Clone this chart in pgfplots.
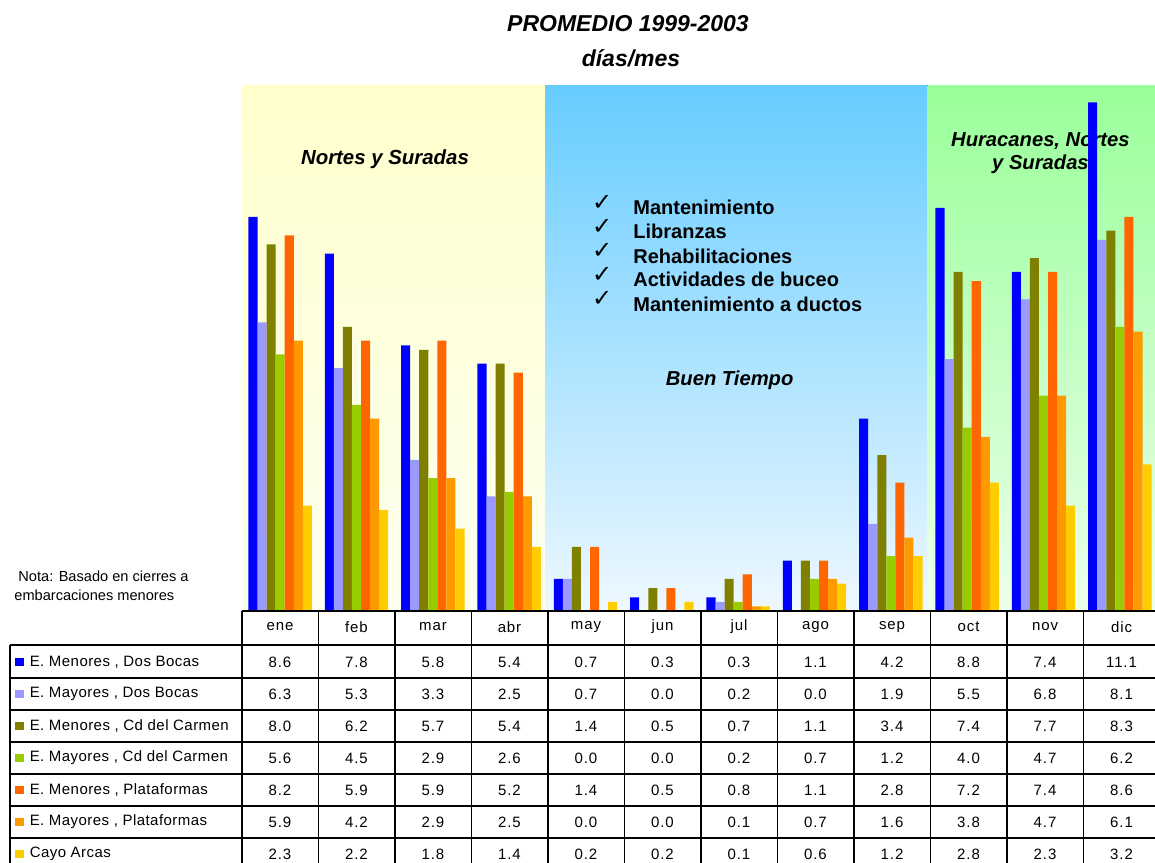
\documentclass[border=0pt]{standalone}
\usepackage{pgfplots}
\usepackage{pgfplotstable}
\pgfplotsset{compat=1.18}
\usepackage{fontspec}
\setmainfont{Liberation Sans}
\newfontfamily\symfont{DejaVu Sans}
\newfontfamily\tabfont[LetterSpace=6]{Liberation Sans}
\newfontfamily\legfont[LetterSpace=3]{Liberation Sans}

\definecolor{c1}{RGB}{0,0,255}
\definecolor{c2}{RGB}{153,153,255}
\definecolor{c3}{RGB}{128,128,0}
\definecolor{c4}{RGB}{153,204,0}
\definecolor{c5}{RGB}{255,102,0}
\definecolor{c6}{RGB}{255,153,0}
\definecolor{c7}{RGB}{255,204,0}

\pgfplotstableread{
x m s1 s2 s3 s4 s5 s6 s7
0 ene 8.6 6.3 8.0 5.6 8.2 5.9 2.3
1 feb 7.8 5.3 6.2 4.5 5.9 4.2 2.2
2 mar 5.8 3.3 5.7 2.9 5.9 2.9 1.8
3 abr 5.4 2.5 5.4 2.6 5.2 2.5 1.4
4 may 0.7 0.7 1.4 0.0 1.4 0.0 0.2
5 jun 0.3 0.0 0.5 0.0 0.5 0.0 0.2
6 jul 0.3 0.2 0.7 0.2 0.8 0.1 0.1
7 ago 1.1 0.0 1.1 0.7 1.1 0.7 0.6
8 sep 4.2 1.9 3.4 1.2 2.8 1.6 1.2
9 oct 8.8 5.5 7.4 4.0 7.2 3.8 2.8
10 nov 7.4 6.8 7.7 4.7 7.4 4.7 2.3
11 dic 11.1 8.1 8.3 6.2 8.6 6.1 3.2
}\data

\begin{document}
\begin{tikzpicture}
\useasboundingbox (0,0) rectangle (577.5pt,-431pt);
% titles
\begin{scope}[x=0.5pt,y=-0.5pt]
\node[font=\fontsize{11.5}{13}\selectfont\bfseries\itshape] at (628,24) {PROMEDIO 1999-2003};
\node[font=\fontsize{11.5}{13}\selectfont\bfseries\itshape] at (631,58) {días/mes};
\node[font=\fontsize{7.3}{9.5}\selectfont, align=left, anchor=west, inner sep=0pt] at (14,586) {\ Nota: Basado en cierres a\\embarcaciones menores};
\end{scope}

\begin{axis}[at={(121pt,-305.5pt)}, anchor=south west, scale only axis,
  width=458pt, height=263pt, xmin=-0.5, xmax=11.5, ymin=0, ymax=11.48,
  axis lines=none, xtick=\empty, ytick=\empty, clip=false,
  ybar=0pt, bar width=4.53pt]
\fill[top color={rgb,255:red,255;green,255;blue,204}, bottom color={rgb,255:red,252;green,255;blue,240}] (axis cs:-0.5,0) rectangle (axis cs:3.47,11.48);
\fill[top color={rgb,255:red,102;green,204;blue,255}, bottom color={rgb,255:red,238;green,248;blue,255}] (axis cs:3.47,0) rectangle (axis cs:8.48,11.48);
\fill[top color={rgb,255:red,153;green,255;blue,153}, bottom color={rgb,255:red,236;green,255;blue,236}] (axis cs:8.48,0) rectangle (axis cs:11.6,11.48);
\node[font=\fontsize{10.2}{12}\selectfont\bfseries\itshape] at (axis cs:1.373,9.85) {Nortes y Suradas};
\node[font=\fontsize{10.1}{11.5}\selectfont\bfseries\itshape, align=center] at (axis cs:9.96,9.99) {Huracanes, Nortes\\y Suradas};
\node[font=\fontsize{10.1}{12}\selectfont\bfseries\itshape] at (axis cs:5.888,5.04) {Buen Tiempo};
\node[font=\fontsize{10}{11}\selectfont\bfseries, anchor=west, inner sep=0pt] at (axis cs:4.622,8.80) {Mantenimiento};
\node[font=\fontsize{10}{11}\selectfont\bfseries, anchor=west, inner sep=0pt] at (axis cs:4.622,8.28) {Libranzas};
\node[font=\fontsize{10}{11}\selectfont\bfseries, anchor=west, inner sep=0pt] at (axis cs:4.622,7.75) {Rehabilitaciones};
\node[font=\fontsize{10}{11}\selectfont\bfseries, anchor=west, inner sep=0pt] at (axis cs:4.622,7.23) {Actividades de buceo};
\node[font=\fontsize{10}{11}\selectfont\bfseries, anchor=west, inner sep=0pt] at (axis cs:4.622,6.70) {Mantenimiento a ductos};
\node[font=\fontsize{12}{13}\selectfont\symfont] at (axis cs:4.22,8.90) {✓};
\node[font=\fontsize{12}{13}\selectfont\symfont] at (axis cs:4.22,8.38) {✓};
\node[font=\fontsize{12}{13}\selectfont\symfont] at (axis cs:4.22,7.85) {✓};
\node[font=\fontsize{12}{13}\selectfont\symfont] at (axis cs:4.22,7.33) {✓};
\node[font=\fontsize{12}{13}\selectfont\symfont] at (axis cs:4.22,6.80) {✓};
\addplot[fill=c1, draw=none] table[x=x,y=s1]{\data};
\addplot[fill=c2, draw=none] table[x=x,y=s2]{\data};
\addplot[fill=c3, draw=none] table[x=x,y=s3]{\data};
\addplot[fill=c4, draw=none] table[x=x,y=s4]{\data};
\addplot[fill=c5, draw=none] table[x=x,y=s5]{\data};
\addplot[fill=c6, draw=none] table[x=x,y=s6]{\data};
\addplot[fill=c7, draw=none] table[x=x,y=s7]{\data};
\end{axis}

% data table
\begin{scope}[x=0.5pt,y=-0.5pt, line width=0.75pt]
\draw (242,611) -- (1160,611);
\draw (10,645) -- (1160,645);
\foreach \yy in {678,710,742,774,806,838} \draw (10,\yy) -- (1160,\yy);
\draw (10,645) -- (10,870);
\foreach \k in {0,...,11} \draw ({242+\k*76.5},611) -- ({242+\k*76.5},870);
\foreach \col/\lab [count=\c from 0] in {c1/{E. Menores , Dos Bocas},c2/{E. Mayores , Dos Bocas},c3/{E. Menores , Cd del Carmen},c4/{E. Mayores , Cd del Carmen},c5/{E. Menores , Plataformas},c6/{E. Mayores , Plataformas},c7/{Cayo Arcas}}{
  \fill[\col] (15,{658+\c*32}) rectangle (24,{666+\c*32});
  \node[anchor=west, font=\fontsize{7.5}{8}\selectfont\legfont, inner sep=0pt] at (29,{662+\c*32}) {\lab};
}
\foreach \r in {0,...,11}{
  \pgfplotstablegetelem{\r}{m}\of\data
  \node[font=\fontsize{7.5}{8}\selectfont\tabfont] at ({280+\r*76.5},627) {\pgfplotsretval};
  \foreach \s [count=\c from 0] in {s1,s2,s3,s4,s5,s6,s7}{
    \pgfplotstablegetelem{\r}{\s}\of\data
    \node[font=\fontsize{7.5}{8}\selectfont\tabfont] at ({280+\r*76.5},{662+\c*32}) {\pgfplotsretval};
  }
}
\end{scope}
\end{tikzpicture}
\end{document}
